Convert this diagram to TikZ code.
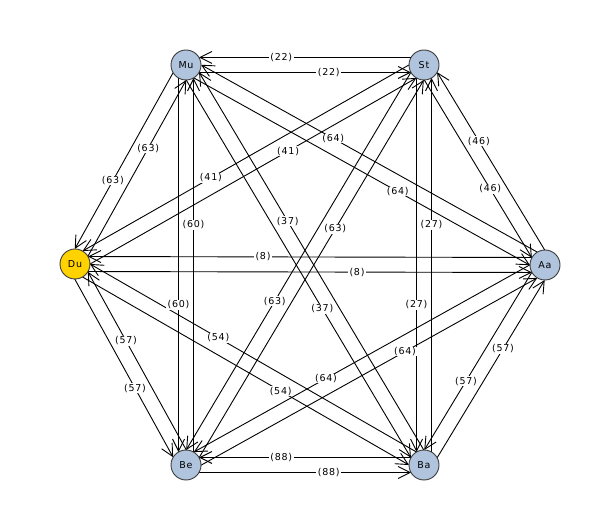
\documentclass[tikz,border=0pt]{standalone}
\usepackage{fontspec}
\setmainfont{DejaVu Sans}[LetterSpace=8]
\usetikzlibrary{calc,arrows.meta}
\pgfdeclarelayer{edges}
\pgfdeclarelayer{labels}
\pgfsetlayers{edges,labels,main}
\definecolor{nodeblue}{HTML}{B0C4DE}
\definecolor{nodegold}{HTML}{FFD200}
\definecolor{nodeborder}{HTML}{3A3A3A}
\tikzset{
  city/.style={circle,draw=nodeborder,line width=0.9pt,fill=nodeblue,minimum size=30pt,inner sep=0pt,font=\fontsize{9.5}{11}\selectfont},
  home/.style={city,fill=nodegold},
  edgeline/.style={draw=black,line width=0.9pt,-{Straight Barb[length=12pt,width=12pt,line width=0.9pt]}},
  elabel/.style={fill=white,inner xsep=1.5pt,inner ysep=0.5pt,font=\fontsize{9.5}{11}\selectfont}
}
\newcommand\myedge[3]{%
  \begin{pgfonlayer}{edges}
    \draw[edgeline] ($(#1.center)!15pt!-30:(#2.center)$) -- ($(#2.center)!15pt!30:(#1.center)$);
  \end{pgfonlayer}
  \begin{pgfonlayer}{labels}
    \path ($(#1.center)!7.5pt!-90:(#2.center)$) coordinate (s) ($(#2.center)!7.5pt!90:(#1.center)$) coordinate (t);
    \node[elabel] (l#1#2) at ($(s)!0.6!(t)$) {(#3)};
  \end{pgfonlayer}}
\begin{document}
\begin{tikzpicture}[x=1pt,y=1pt]
\useasboundingbox (0,0) rectangle (610,530);
\node[city] (Mu) at (186,465) {Mu};
\node[city] (St) at (424,465) {St};
\node[city] (Aa) at (545,265) {Aa};
\node[city] (Ba) at (424,65) {Ba};
\node[city] (Be) at (186,65) {Be};
\node[home] (Du) at (75,266) {Du};
\myedge{Mu}{St}{22}\myedge{St}{Mu}{22}
\myedge{Mu}{Aa}{64}\myedge{Aa}{Mu}{64}
\myedge{Mu}{Ba}{37}\myedge{Ba}{Mu}{37}
\myedge{Mu}{Be}{60}\myedge{Be}{Mu}{60}
\myedge{Mu}{Du}{63}\myedge{Du}{Mu}{63}
\myedge{St}{Aa}{46}\myedge{Aa}{St}{46}
\myedge{St}{Ba}{27}\myedge{Ba}{St}{27}
\myedge{St}{Be}{63}\myedge{Be}{St}{63}
\myedge{St}{Du}{41}\myedge{Du}{St}{41}
\myedge{Aa}{Ba}{57}\myedge{Ba}{Aa}{57}
\myedge{Aa}{Be}{64}\myedge{Be}{Aa}{64}
\myedge{Aa}{Du}{8}\myedge{Du}{Aa}{8}
\myedge{Ba}{Be}{88}\myedge{Be}{Ba}{88}
\myedge{Ba}{Du}{54}\myedge{Du}{Ba}{54}
\myedge{Be}{Du}{57}\myedge{Du}{Be}{57}
\end{tikzpicture}
\end{document}
